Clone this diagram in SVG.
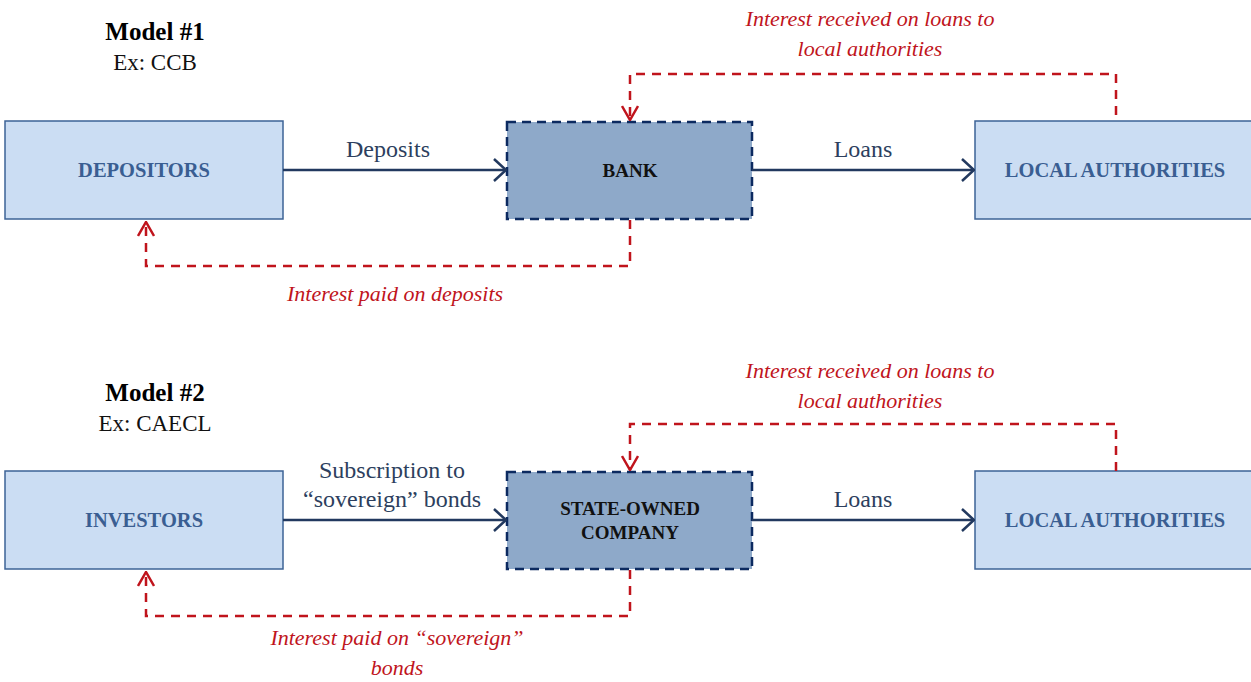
<svg xmlns="http://www.w3.org/2000/svg" width="1251" height="682" viewBox="0 0 1251 682" font-family="'Liberation Serif', 'DejaVu Serif', serif">
<defs>
<style>
.light{fill:#cbddf3;stroke:#3d6396;stroke-width:1.5}
.mid{fill:#8ea9c9;stroke:#0c2a60;stroke-width:2.5;stroke-dasharray:9 6}
.ltxt{font-family:'Liberation Serif','DejaVu Serif',serif;font-weight:bold;font-size:20.5px;fill:#3a5e92;text-anchor:middle}
.mtxt{font-family:'Liberation Serif','DejaVu Serif',serif;font-weight:bold;font-size:19px;fill:#111;text-anchor:middle}
.flow{stroke:#22395f;stroke-width:2.5;fill:none}
.red{stroke:#c0141c;stroke-width:2.5;fill:none;stroke-dasharray:9 7}
.lbl{font-family:'Liberation Serif','DejaVu Serif',serif;font-size:24px;fill:#2d3f5e;text-anchor:middle}
.rlbl{font-family:'Liberation Serif','DejaVu Serif',serif;font-style:italic;font-size:22px;fill:#c0141c;text-anchor:middle}
.ttl{font-family:'Liberation Serif','DejaVu Serif',serif;font-weight:bold;font-size:25px;fill:#000;text-anchor:middle}
.sub{font-family:'Liberation Serif','DejaVu Serif',serif;font-size:23px;fill:#111;text-anchor:middle}
</style>
<marker id="navy" viewBox="0 0 14 24" refX="13" refY="12" markerWidth="14" markerHeight="24" markerUnits="userSpaceOnUse" orient="auto">
<path d="M1,1 L13,12 L1,23" fill="none" stroke="#22395f" stroke-width="2.5"/>
</marker>
<marker id="redh" viewBox="0 0 16 18" refX="15" refY="9" markerWidth="16" markerHeight="18" markerUnits="userSpaceOnUse" orient="auto">
<path d="M1,1 L15,9 L1,17" fill="none" stroke="#c0141c" stroke-width="2.5"/>
</marker>
</defs>
<rect width="1251" height="682" fill="#fff"/>

<g id="title1">
<text class="ttl" x="155" y="40">Model #1</text>
<text class="sub" x="155" y="70">Ex: CCB</text>
</g>
<g id="title2">
<text class="ttl" x="155" y="401">Model #2</text>
<text class="sub" x="155" y="431">Ex: CAECL</text>
</g>

<g id="depositors">
<rect class="light" x="5" y="121" width="278" height="98"/>
<text class="ltxt" x="144" y="177">DEPOSITORS</text>
</g>
<g id="bank">
<rect class="mid" x="507" y="122" width="245" height="97"/>
<text class="mtxt" x="630" y="177">BANK</text>
</g>
<g id="local1">
<rect class="light" x="975" y="121" width="290" height="98"/>
<text class="ltxt" x="1115" y="177">LOCAL AUTHORITIES</text>
</g>

<g id="investors">
<rect class="light" x="5" y="471" width="278" height="98"/>
<text class="ltxt" x="144" y="527">INVESTORS</text>
</g>
<g id="company">
<rect class="mid" x="507" y="472" width="245" height="97"/>
<text class="mtxt" x="630" y="515">STATE-OWNED</text>
<text class="mtxt" x="630" y="539">COMPANY</text>
</g>
<g id="local2">
<rect class="light" x="975" y="471" width="290" height="98"/>
<text class="ltxt" x="1115" y="527">LOCAL AUTHORITIES</text>
</g>

<g id="connectors">
<line class="flow" x1="283" y1="170" x2="506" y2="170" marker-end="url(#navy)"/>
<line class="flow" x1="752" y1="170" x2="974" y2="170" marker-end="url(#navy)"/>
<line class="flow" x1="283" y1="520" x2="506" y2="520" marker-end="url(#navy)"/>
<line class="flow" x1="752" y1="520" x2="974" y2="520" marker-end="url(#navy)"/>

<path class="red" d="M1116,115 V74 H630 V120" marker-end="url(#redh)"/>
<path class="red" d="M630,220 V266 H146 V222" marker-end="url(#redh)"/>
<path class="red" d="M1116,471 V424 H630 V470" marker-end="url(#redh)"/>
<path class="red" d="M630,570 V616 H146 V572" marker-end="url(#redh)"/>

<text class="lbl" x="388" y="157">Deposits</text>
<text class="lbl" x="863" y="157">Loans</text>
<text class="lbl" x="392" y="478">Subscription to</text>
<text class="lbl" x="392" y="507">“sovereign” bonds</text>
<text class="lbl" x="863" y="507">Loans</text>

<text class="rlbl" x="870" y="26">Interest received on loans to</text>
<text class="rlbl" x="870" y="56">local authorities</text>
<text class="rlbl" x="395" y="301">Interest paid on deposits</text>
<text class="rlbl" x="870" y="378">Interest received on loans to</text>
<text class="rlbl" x="870" y="408">local authorities</text>
<text class="rlbl" x="397" y="645">Interest paid on “sovereign”</text>
<text class="rlbl" x="397" y="675">bonds</text>
</g>
</svg>
